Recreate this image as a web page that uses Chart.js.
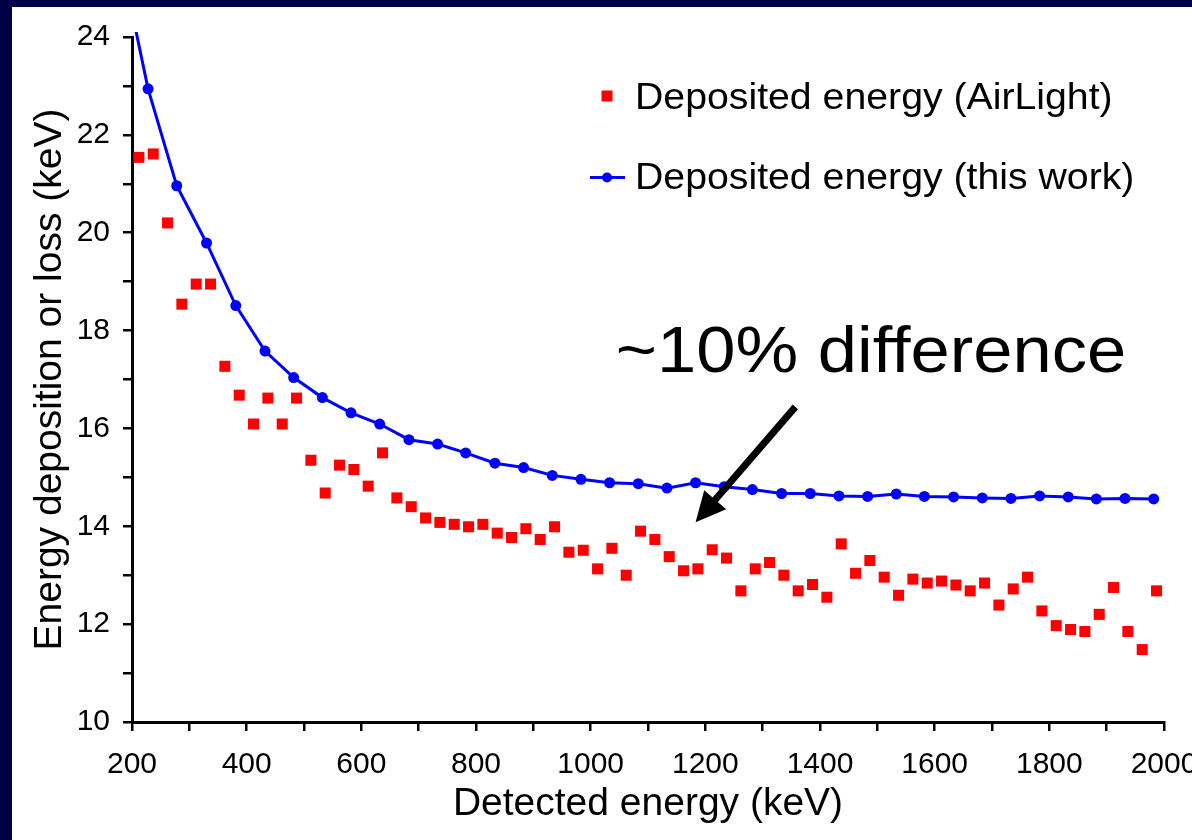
<!DOCTYPE html>
<html>
<head>
<meta charset="utf-8">
<title>Deposited energy</title>
<script src="https://cdn.jsdelivr.net/npm/chart.js@4.4.1/dist/chart.umd.min.js"></script>
<style>
  html, body { margin: 0; padding: 0; width: 1192px; height: 840px; overflow: hidden; background: #000046; }
  #panel { position: absolute; left: 12px; top: 7px; width: 1190px; height: 833px; background: #fff; }
</style>
</head>
<body>
<div id="panel"><canvas id="energyChart" width="1190" height="833"></canvas></div>
<script>
// AirLight, 25 keV bins
const airlightEnergy = [
  212, 237, 262, 287, 312, 337, 362, 387, 412, 437,
  462, 487, 512, 537, 562, 587, 612, 637, 662, 687,
  712, 737, 762, 787, 812, 837, 862, 887, 912, 937,
  962, 987, 1012, 1037, 1062, 1087, 1112, 1137, 1162, 1187,
  1212, 1237, 1262, 1287, 1312, 1337, 1362, 1387, 1412, 1437,
  1462, 1487, 1512, 1537, 1562, 1587, 1612, 1637, 1662, 1687,
  1712, 1737, 1762, 1787, 1812, 1837, 1862, 1887, 1912, 1937,
  1962, 1987
];
const airlightDeposit = [
  21.54, 21.61, 20.20, 18.54, 18.95, 18.95, 17.27, 16.68, 16.09, 16.62,
  16.09, 16.62, 15.35, 14.68, 15.25, 15.16, 14.82, 15.50, 14.58, 14.40,
  14.17, 14.08, 14.04, 13.99, 14.04, 13.86, 13.77, 13.95, 13.73, 13.99,
  13.47, 13.51, 13.13, 13.55, 13.00, 13.90, 13.73, 13.38, 13.09, 13.13,
  13.52, 13.35, 12.68, 13.13, 13.26, 13.00, 12.68, 12.81, 12.55, 13.64,
  13.04, 13.30, 12.96, 12.59, 12.92, 12.84, 12.88, 12.80, 12.68, 12.84,
  12.39, 12.72, 12.96, 12.27, 11.97, 11.89, 11.85, 12.20, 12.75, 11.85,
  11.48, 12.68
];

// this work, 50 keV steps (first point sits left of the axis and is clipped)
const workEnergy = [
  177, 228, 278, 330, 381, 432, 482, 532, 582, 632, 683,
  733, 782, 833, 883, 933, 983, 1033, 1083, 1133, 1183,
  1233, 1282, 1333, 1383, 1433, 1483, 1533, 1582, 1633, 1683,
  1733, 1783, 1833, 1882, 1932, 1982
];
const workDeposit = [
  25.80, 22.94, 20.96, 19.79, 18.51, 17.58, 17.04, 16.63, 16.32, 16.09, 15.77,
  15.68, 15.50, 15.29, 15.20, 15.04, 14.96, 14.89, 14.87, 14.78, 14.89,
  14.81, 14.75, 14.67, 14.67, 14.62, 14.61, 14.66, 14.61, 14.60, 14.58,
  14.57, 14.62, 14.60, 14.56, 14.57, 14.56
];

const xLabelTicks = [200, 400, 600, 800, 1000, 1200, 1400, 1600, 1800, 2000];
const yLabelTicks = [10, 12, 14, 16, 18, 20, 22, 24];

// annotation arrow (keV, keV) and caption anchor
const arrowFrom = [1357, 16.44];
const arrowTo = [1183, 14.08];
const captionAt = [1489, 17.15];

const FONT = "'Liberation Sans', Arial, Helvetica, sans-serif";
const RED = '#ff0000';
const BLUE = '#0000ff';

function toPoints(xs, ys) {
  return xs.map((x, i) => ({ x: x, y: ys[i] }));
}

// text drawn a little wider than the font's natural width
function wideText(ctx, text, x, y, sx) {
  ctx.save();
  ctx.translate(x, y);
  ctx.scale(sx, 1);
  ctx.fillText(text, 0, 0);
  ctx.restore();
}

// arrow, caption and legend on top of the plot
const overlay = {
  id: 'overlay',
  afterDatasetsDraw(chart) {
    const ctx = chart.ctx;
    const xs = chart.scales.x, ys = chart.scales.y;
    const area = chart.chartArea;
    ctx.save();

    // arrow
    const x0 = xs.getPixelForValue(arrowFrom[0]), y0 = ys.getPixelForValue(arrowFrom[1]);
    const x1 = xs.getPixelForValue(arrowTo[0]), y1 = ys.getPixelForValue(arrowTo[1]);
    const ang = Math.atan2(y1 - y0, x1 - x0);
    const headLen = 30, headHalf = 14.5;
    const bx = x1 - headLen * Math.cos(ang), by = y1 - headLen * Math.sin(ang);
    ctx.strokeStyle = '#000';
    ctx.fillStyle = '#000';
    ctx.lineWidth = 7;
    ctx.lineCap = 'butt';
    ctx.beginPath();
    ctx.moveTo(x0, y0);
    ctx.lineTo(bx + 2 * Math.cos(ang), by + 2 * Math.sin(ang));
    ctx.stroke();
    ctx.beginPath();
    ctx.moveTo(x1, y1);
    ctx.lineTo(bx - headHalf * Math.sin(ang), by + headHalf * Math.cos(ang));
    ctx.lineTo(bx + headHalf * Math.sin(ang), by - headHalf * Math.cos(ang));
    ctx.closePath();
    ctx.fill();

    // caption
    ctx.font = '65px ' + FONT;
    ctx.textAlign = 'center';
    ctx.textBaseline = 'alphabetic';
    wideText(ctx, '~10% difference', xs.getPixelForValue(captionAt[0]), ys.getPixelForValue(captionAt[1]), 1.085);

    // legend
    const sets = chart.data.datasets;
    const mx = area.left + 475;
    const tx = area.left + 503;
    ctx.font = '36px ' + FONT;
    ctx.textAlign = 'left';

    ctx.fillStyle = sets[0].pointBackgroundColor;
    ctx.fillRect(mx - 5.5, area.top + 53.5, 11, 11);
    ctx.fillStyle = '#000';
    wideText(ctx, sets[0].label, tx, area.top + 72, 1.09);

    const ly = area.top + 140.5;
    ctx.strokeStyle = sets[1].borderColor;
    ctx.lineWidth = 3;
    ctx.beginPath();
    ctx.moveTo(mx - 17, ly);
    ctx.lineTo(mx + 18, ly);
    ctx.stroke();
    ctx.fillStyle = sets[1].pointBackgroundColor;
    ctx.beginPath();
    ctx.arc(mx, ly, 5, 0, Math.PI * 2);
    ctx.fill();
    ctx.fillStyle = '#000';
    wideText(ctx, sets[1].label, tx, area.top + 152, 1.09);

    ctx.restore();
  }
};

const tickFont = { family: FONT, size: 30 };
const titleFont = { family: FONT, size: 39 };
const tickGrid = { drawOnChartArea: false, drawTicks: true, tickLength: 9, color: '#000', lineWidth: 2.5 };

new Chart(document.getElementById('energyChart'), {
  type: 'scatter',
  data: {
    datasets: [
      {
        label: 'Deposited energy (AirLight)',
        data: toPoints(airlightEnergy, airlightDeposit),
        showLine: false,
        pointStyle: 'rect',
        pointRadius: 7.8,
        pointBorderWidth: 0,
        pointBackgroundColor: RED,
        backgroundColor: RED,
        borderColor: RED
      },
      {
        label: 'Deposited energy (this work)',
        data: toPoints(workEnergy, workDeposit),
        showLine: true,
        tension: 0,
        borderColor: BLUE,
        borderWidth: 3,
        backgroundColor: BLUE,
        pointRadius: 5.5,
        pointBorderWidth: 0,
        pointBackgroundColor: BLUE,
        clip: { left: 0, top: 5, right: 0, bottom: 0 }
      }
    ]
  },
  options: {
    responsive: false,
    animation: false,
    layout: { padding: { top: 30, right: 38, left: 0, bottom: 0 } },
    plugins: {
      legend: { display: false },
      tooltip: { enabled: false }
    },
    scales: {
      x: {
        type: 'linear',
        min: 200,
        max: 2000,
        ticks: {
          stepSize: 100,
          autoSkip: false,
          maxRotation: 0,
          padding: 16,
          color: '#000',
          font: tickFont,
          callback: v => xLabelTicks.includes(v) ? String(v) : ''
        },
        grid: tickGrid,
        border: { color: '#000', width: 3 },
        title: {
          display: true,
          text: 'Detected energy (keV)',
          color: '#000',
          font: titleFont,
          padding: { top: 0, bottom: 12 }
        },
        afterFit(scale) {
          scale.height = 118;
          // let the last label run past the right edge
          scale.paddingLeft = 0;
          scale.paddingRight = 0;
        }
      },
      y: {
        type: 'linear',
        min: 10,
        max: 24,
        ticks: {
          stepSize: 1,
          padding: 13,
          color: '#000',
          font: tickFont,
          callback: v => yLabelTicks.includes(v) ? String(v) : ''
        },
        grid: tickGrid,
        border: { color: '#000', width: 3 },
        title: {
          display: true,
          text: 'Energy deposition or loss (keV)',
          color: '#000',
          font: titleFont,
          padding: { top: 15, bottom: 0 }
        },
        afterFit(scale) {
          scale.width = 120;
          scale.paddingTop = 0;
          scale.paddingBottom = 0;
        }
      }
    }
  },
  plugins: [overlay]
});
</script>
</body>
</html>
